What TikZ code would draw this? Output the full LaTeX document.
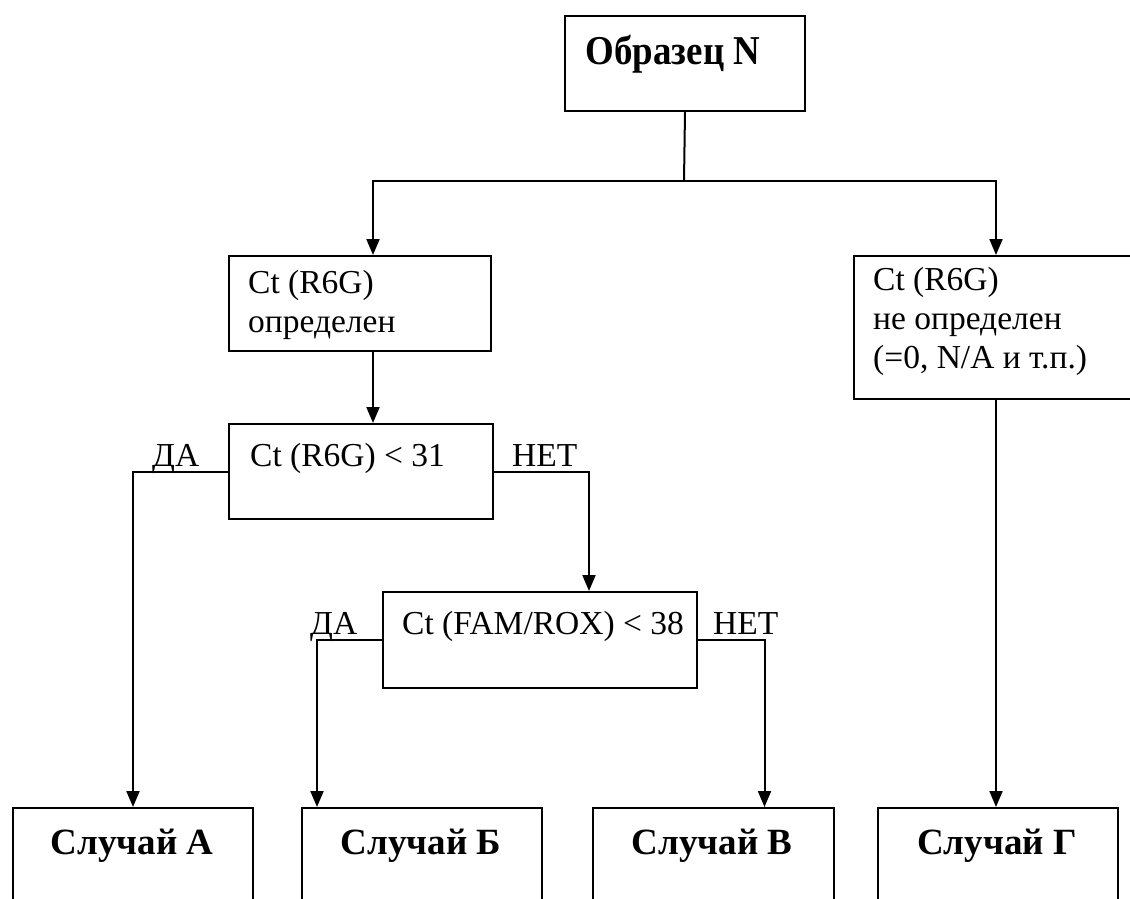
\documentclass[tikz,border=0pt]{standalone}
\usepackage{fontspec}
\setmainfont{Liberation Serif}
\usetikzlibrary{arrows.meta}
\newcommand{\regf}{\fontsize{33.5}{39}\selectfont}
\newcommand{\bldf}{\bfseries\fontsize{37}{44}\selectfont}
\newcommand{\bigbldf}{\bfseries\fontsize{41}{48}\selectfont}
\tikzset{
  box/.style={draw, line width=2pt, anchor=north west, inner sep=0pt},
  conn/.style={line width=2pt},
  arr/.style={conn, -{Triangle[length=16pt,width=13pt]}},
  txt/.style={anchor=base west, inner sep=0pt, font=\regf},
  btxt/.style={anchor=base, inner sep=0pt, font=\bldf}
}
\begin{document}
\begin{tikzpicture}[x=1pt,y=-1pt]
\path[use as bounding box] (0,0) rectangle (1130,898);
\clip (0,0) rectangle (1130,898);
% boxes
\node[box, minimum width=240pt, minimum height=95pt] (top) at (564,15) {};
\node[box, minimum width=262pt, minimum height=95pt] (b1) at (228,255) {};
\node[box, minimum width=284pt, minimum height=143pt] (b2) at (853,255) {};
\node[box, minimum width=264pt, minimum height=95pt] (b3) at (228,423) {};
\node[box, minimum width=314pt, minimum height=96pt] (b4) at (382,591) {};
\node[box, minimum width=240pt, minimum height=150pt] (A) at (12,807) {};
\node[box, minimum width=240pt, minimum height=150pt] (B) at (301,807) {};
\node[box, minimum width=241pt, minimum height=150pt] (C) at (592,807) {};
\node[box, minimum width=240pt, minimum height=150pt] (D) at (877,807) {};
% texts
\node[anchor=base, inner sep=0pt, font=\bigbldf] (ttop) at (673,64) {\scalebox{0.9}[1]{Образец N}};
\node[txt] (t1a) at (248,293) {Ct (R6G)};
\node[txt] (t1b) at (248,332) {определен};
\node[txt] (t2a) at (873,290) {Ct (R6G)};
\node[txt] (t2b) at (873,329) {не определен};
\node[txt] (t2c) at (873,368) {(=0, N/A и т.п.)};
\node[txt] (t3) at (250,466) {Ct (R6G) < 31};
\node[txt] (t4) at (402,634) {Ct (FAM/ROX) < 38};
\node[txt] (l1) at (152,466) {ДА};
\node[txt] (l2) at (512,466) {НЕТ};
\node[txt] (l3) at (310,634) {ДА};
\node[txt] (l4) at (713,634) {НЕТ};
\node[btxt] (tA) at (132,854) {Случай А};
\node[btxt] (tB) at (421,854) {Случай Б};
\node[btxt] (tC) at (712,854) {Случай В};
\node[btxt] (tD) at (997,854) {Случай Г};
% connectors
\coordinate (j) at (684,181);
\draw[conn] (top.south) -- (j);
\draw[arr] (j) -| ([xshift=13pt]b1.north);
\draw[arr] (j) -| (b2.north);
\draw[arr] ([xshift=13pt]b1.south) -- ([xshift=13pt]b1.south |- b3.north);
\draw[arr] (b3.west) -| (A.north);
\draw[arr] (b3.east) -| ([xshift=49pt]b4.north);
\draw[arr] (b4.west) -| ([xshift=-105pt]B.north);
\draw[arr] (b4.east) -| ([xshift=51pt]C.north);
\draw[arr] (b2.south) -- (b2.south |- D.north);
\end{tikzpicture}
\end{document}
